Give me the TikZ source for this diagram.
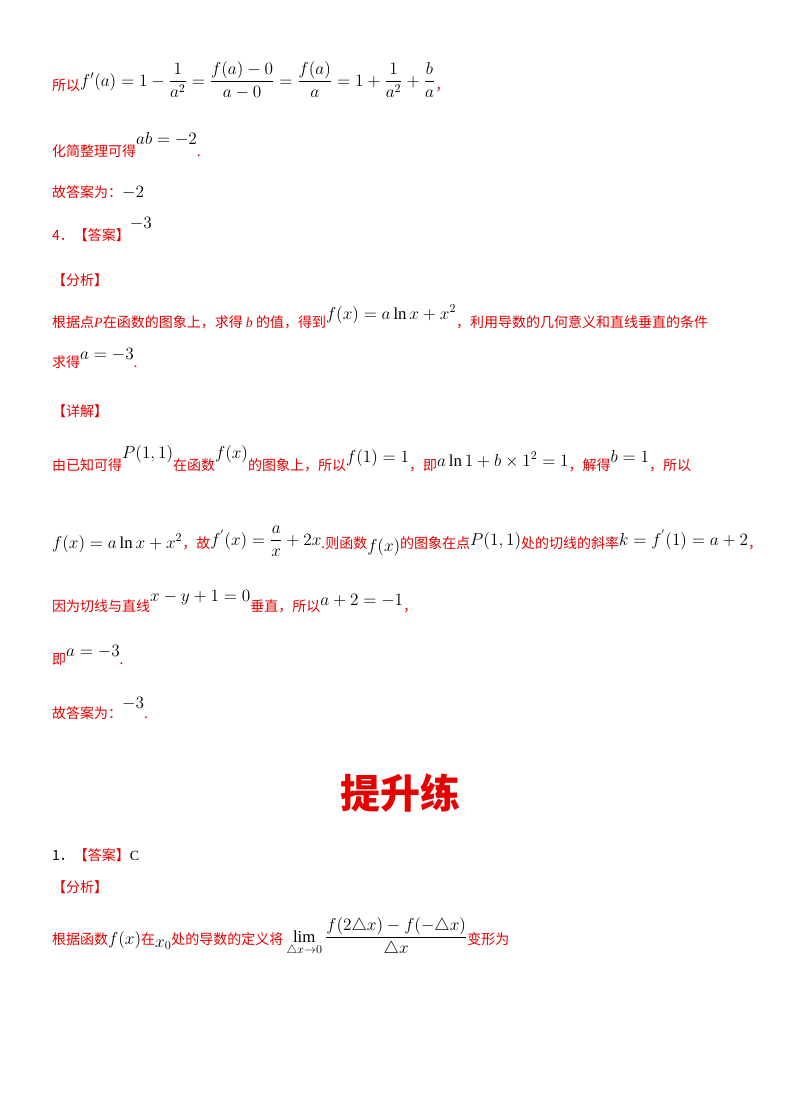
\documentclass[tikz,border=0pt]{standalone}
\usepackage{fontspec}
\usepackage{amsmath}
\usepackage{graphicx}
\setmainfont{Liberation Serif}
\newfontfamily\cjk{Noto Sans CJK SC}
\definecolor{rd}{RGB}{230,0,0}
\newcommand{\R}[1]{{\color{rd}\cjk #1}}
\newcommand{\up}[2]{\raisebox{#1pt}{\scalebox{1.2}{$#2$}}}
\begin{document}
\begin{tikzpicture}[x=1pt,y=-1pt,
  ln/.style={anchor=base west,inner sep=0pt,font=\fontsize{14}{16}\selectfont}]
\useasboundingbox (0,0) rectangle (800,1109);
\fill[white] (0,0) rectangle (800,1109);
\node[ln] (l1) at (52,90) {\R{所以}\up{4}{f'(a)=1-\dfrac{1}{a^2}=\dfrac{f(a)-0}{a-0}=\dfrac{f(a)}{a}=1+\dfrac{1}{a^2}+\dfrac{b}{a}}\R{，}};
\node[ln] (l2) at (52,156) {\R{化简整理可得}\up{12}{ab=-2}\R{.}};
\node[ln] (l3) at (52,197) {\R{故答案为：}\up{0}{-2}};
\node[ln] (l4) at (52,240) {\R{4．【答案】}\up{12}{-3}};
\node[ln] (l5) at (52,285) {\R{【分析】}};
\node[ln] (l6) at (52,327) {\R{根据点}\textcolor{rd}{\textit{P}}\R{在函数的图象上，求得 }\textcolor{rd}{\textit{b}}\R{ 的值，得到}\up{8}{f(x)=a\ln x+x^2}\R{，利用导数的几何意义和直线垂直的条件}};
\node[ln] (l7) at (52,367) {\R{求得}\up{8}{a=-3}\R{.}};
\node[ln] (l8) at (52,416) {\R{【详解】}};
\node[ln] (l9) at (52,470) {\R{由已知可得}\up{12}{P(1,1)}\R{在函数}\up{12}{f(x)}\R{的图象上，所以}\up{8}{f(1)=1}\R{，即}\up{4}{a\ln1+b\times1^2=1}\R{，解得}\up{8}{b=1}\R{，所以}};
\node[ln] (l10) at (52,548) {\up{0}{f(x)=a\ln x+x^2}\R{，故}\up{3}{f^{'}(x)=\dfrac{a}{x}+2x}\R{.则函数}\up{-3}{f(x)}\R{的图象在点}\up{3}{P(1,1)}\R{处的切线的斜率}\up{3}{k=f^{'}(1)=a+2}\R{，}};
\node[ln] (l11) at (52,611) {\R{因为切线与直线}\up{10}{x-y+1=0}\R{垂直，所以}\up{6}{a+2=-1}\R{，}};
\node[ln] (l12) at (52,664) {\R{即}\up{8}{a=-3}\R{.}};
\node[ln] (l13) at (52,718) {\R{故答案为：}\up{10}{-3}\R{.}};
\node[anchor=base,inner sep=0pt,font=\fontsize{40}{44}\selectfont\bfseries] (t) at (400,808) {\R{提升练}};
\node[ln] (l14) at (52,860) {{\cjk 1．}\R{【答案】}C};
\node[ln] (l15) at (52,892) {\R{【分析】}};
\node[ln] (l16) at (52,944) {\R{根据函数}\up{0}{f(x)}\R{在}\up{-3}{x_0}\R{处的导数的定义将 }\up{2}{\displaystyle\lim_{\triangle x\to0}\frac{f(2\triangle x)-f(-\triangle x)}{\triangle x}}\R{变形为}};
\end{tikzpicture}
\end{document}
